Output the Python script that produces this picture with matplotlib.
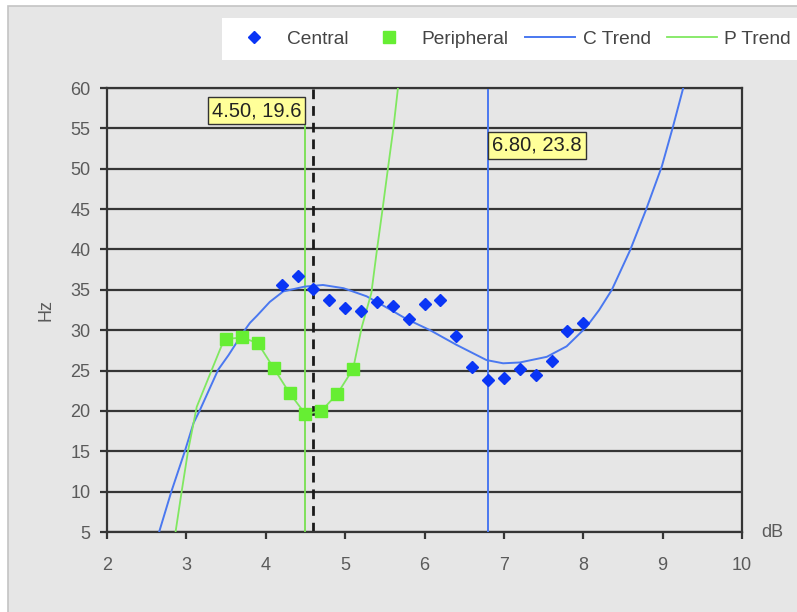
import matplotlib
matplotlib.use('Agg')
import matplotlib.pyplot as plt
from matplotlib.patches import Rectangle

plt.rcParams['font.family'] = ['Liberation Sans', 'DejaVu Sans']

# measured points
central_x = [4.2, 4.4, 4.6, 4.8, 5.0, 5.2, 5.4, 5.6, 5.8, 6.0, 6.2, 6.4,
             6.6, 6.8, 7.0, 7.2, 7.4, 7.6, 7.8, 8.0]
central_y = [35.6, 36.7, 35.1, 33.7, 32.7, 32.4, 33.5, 33.0, 31.4, 33.3, 33.7, 29.3,
             25.4, 23.8, 24.1, 25.2, 24.5, 26.2, 29.9, 30.9]
peripheral_x = [3.5, 3.7, 3.9, 4.1, 4.3, 4.5, 4.7, 4.9, 5.1]
peripheral_y = [28.9, 29.1, 28.4, 25.3, 22.2, 19.6, 20.0, 22.1, 25.2]

# trend curves
c_trend_x = [2.65, 2.81, 2.98, 3.09, 3.17, 3.40, 3.53, 3.72, 3.80, 3.89, 4.05, 4.22, 4.49,
             4.72, 4.98, 5.27, 5.56, 5.77, 6.07, 6.40, 6.78, 6.99, 7.20, 7.54, 7.79,
             8.04, 8.20, 8.36, 8.59, 8.79, 8.99, 9.13, 9.27]
c_trend_y = [4.8, 10.0, 15.0, 18.5, 20.1, 25.1, 26.9, 29.8, 30.9, 31.8, 33.5, 34.8, 35.4,
             35.6, 35.2, 34.2, 32.6, 31.4, 30.0, 28.2, 26.3, 25.9, 26.0, 26.7, 28.0,
             30.4, 32.5, 35.0, 39.9, 44.9, 50.3, 55.2, 60.4]
p_trend_x = [2.86, 2.94, 3.02, 3.09, 3.13, 3.32, 3.44, 3.5, 3.7, 3.9, 4.1, 4.3, 4.5,
             4.7, 4.9, 5.1, 5.21, 5.33, 5.40, 5.47, 5.54, 5.61, 5.67]
p_trend_y = [4.8, 10.0, 15.0, 18.5, 20.5, 25.1, 28.0, 28.9, 29.1, 28.4, 25.3, 22.2, 19.6,
             20.0, 22.1, 25.2, 30.4, 34.6, 39.9, 44.9, 50.1, 55.2, 60.4]

# marker lines and labels
p_mark_x, p_mark_top, p_label = 4.5, 55.5, '4.50, 19.6'
c_mark_x, c_mark_top, c_label = 6.8, 59.7, '6.80, 23.8'
c_label_top = 54.6
cursor_x = 4.6

x_ticks = [2, 3, 4, 5, 6, 7, 8, 9, 10]
y_ticks = [5, 10, 15, 20, 25, 30, 35, 40, 45, 50, 55, 60]

bg = '#e6e6e6'
grid_c = '#353535'
label_c = '#5a5a5a'

fig = plt.figure(figsize=(7.97, 6.12), dpi=100, facecolor='white')
# chart area + legend strip
fig.patches.append(Rectangle((0.010, -0.01), 1.0, 1.0, transform=fig.transFigure,
                             facecolor=bg, edgecolor='#c4c4c4', lw=1.2, zorder=-2))
fig.patches.append(Rectangle((0.2785, 0.902), 0.73, 0.069, transform=fig.transFigure,
                             facecolor='white', edgecolor='none', zorder=-1))

ax = fig.add_axes([0.1343, 0.1307, 0.9310 - 0.1343, 0.8562 - 0.1307])
ax.set_facecolor(bg)

for y in y_ticks:
    ax.axhline(y, color=grid_c, lw=1.6, zorder=1)

ax.plot([cursor_x, cursor_x], [5, 60], color='#1a1a1a', lw=2.0, ls=(0, (3.5, 2.5)), zorder=2)
ax.plot([p_mark_x, p_mark_x], [5, p_mark_top], color='#77e050', lw=1.3, zorder=3)
ax.plot([c_mark_x, c_mark_x], [5, c_mark_top], color='#4a78f0', lw=1.4, zorder=3)

ax.plot(c_trend_x, c_trend_y, color='#4a78f0', lw=1.4, zorder=4, label='C Trend')
ax.plot(p_trend_x, p_trend_y, color='#80e860', lw=1.3, zorder=4, label='P Trend')
ax.plot(central_x, central_y, ls='none', marker='D', ms=6.5, color='#0a35f5',
        zorder=5, label='Central')
ax.plot(peripheral_x, peripheral_y, ls='none', marker='s', ms=8, color='#66ee33',
        zorder=5, label='Peripheral')

box = dict(boxstyle='square,pad=0.2', facecolor='#ffff99', edgecolor='#333333', lw=1.0)
ax.annotate(p_label, xy=(p_mark_x, p_mark_top), xytext=(-4, 4), textcoords='offset pixels',
            ha='right', va='bottom', fontsize=14.5, color='#222222', bbox=box, zorder=6)
ax.annotate(c_label, xy=(c_mark_x, c_label_top), xytext=(4, -4), textcoords='offset pixels',
            ha='left', va='top', fontsize=14.5, color='#222222', bbox=box, zorder=6)

ax.set_xlim(2, 10)
ax.set_ylim(5, 60)
ax.set_xticks(x_ticks)
ax.set_yticks(y_ticks)
ax.tick_params(axis='both', colors=grid_c, labelcolor=label_c, labelsize=13,
               length=5, width=1.6, direction='out')
ax.tick_params(axis='x', pad=13)
ax.tick_params(axis='y', pad=7)
for s in ax.spines.values():
    s.set_color(grid_c)
    s.set_linewidth(1.6)

ax.set_ylabel('Hz', fontsize=13, color=label_c, labelpad=11)
ax.text(1.03, 0, 'dB', transform=ax.transAxes, ha='left', va='center',
        fontsize=13, color=label_c)

handles, labels = ax.get_legend_handles_labels()
order = [2, 3, 0, 1]
fig.legend([handles[i] for i in order], [labels[i] for i in order],
           loc='center', bbox_to_anchor=(0.64, 0.936), ncol=4, frameon=False,
           fontsize=13.8, handlelength=2.6, handletextpad=0.4, columnspacing=0.85,
           labelcolor='#444444')

fig.savefig('out.png', dpi=100, facecolor='white')
